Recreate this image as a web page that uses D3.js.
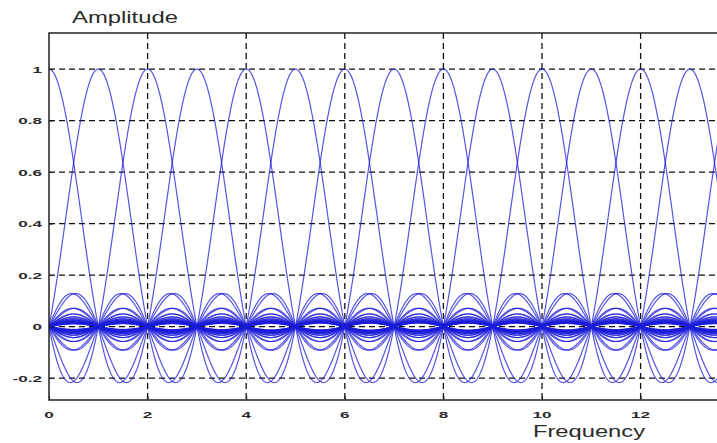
<!DOCTYPE html>
<html>
<head>
<meta charset="utf-8">
<script src="https://d3js.org/d3.v7.min.js"></script>
<style>
  body { margin: 0; background: #fff; }
  text { font-family: "Liberation Sans", Arial, sans-serif; fill: #2a2a2a; }
</style>
</head>
<body>
<div id="chart"></div>
<script>
// subcarrier centre frequencies (one sinc pulse each)
const centers = [
  -16, -15, -14, -13, -12, -11, -10, -9, -8, -7, -6, -5, -4, -3, -2, -1,
  0, 1, 2, 3, 4, 5, 6, 7, 8, 9, 10, 11, 12, 13, 14, 15,
  16, 17, 18, 19, 20, 21, 22, 23, 24, 25, 26, 27, 28, 29, 30, 31
];
const xTicks = [0, 2, 4, 6, 8, 10, 12];
const xGrid = [2, 4, 6, 8, 10, 12, 14];
const yTicks = [-0.2, 0, 0.2, 0.4, 0.6, 0.8, 1];
const xLabel = "Frequency";
const yLabel = "Amplitude";

const width = 717, height = 443;
const mLeft = 49, mTop = 33, mBottom = 400;
const mRight = 49 + 14.5 * 49.3;

const svg = d3.select("#chart").append("svg")
  .attr("width", width).attr("height", height);

const x = d3.scaleLinear().domain([0, 14.5]).range([mLeft, mRight]);
const y = d3.scaleLinear().domain([-0.285, 1.14]).range([mBottom, mTop]);

svg.append("clipPath").attr("id", "clip").append("rect")
  .attr("x", mLeft).attr("y", mTop).attr("width", mRight - mLeft).attr("height", mBottom - mTop);

// grid
svg.append("g").selectAll("line").data(yTicks).join("line")
  .attr("x1", mLeft).attr("x2", mRight)
  .attr("y1", d => y(d)).attr("y2", d => y(d))
  .attr("stroke", "#111").attr("stroke-width", 1.3).attr("stroke-dasharray", "6,4");
svg.append("g").selectAll("line").data(xGrid).join("line")
  .attr("x1", d => x(d)).attr("x2", d => x(d))
  .attr("y1", mTop).attr("y2", mBottom)
  .attr("stroke", "#111").attr("stroke-width", 1.3).attr("stroke-dasharray", "6,4");

// sinc pulses
const sinc = v => v === 0 ? 1 : Math.sin(Math.PI * v) / (Math.PI * v);
const xs = d3.range(0, 14.5 + 1e-9, 0.01);
const line = d3.line().x(d => x(d[0])).y(d => y(d[1]));
svg.append("g")
  .attr("clip-path", "url(#clip)")
  .selectAll("path").data(centers).join("path")
  .attr("d", c => line(xs.map(f => [f, sinc(f - c)])))
  .attr("fill", "none")
  .attr("stroke", "#1c1cd8")
  .attr("stroke-opacity", 0.75)
  .attr("stroke-width", 1.2);

// frame
svg.append("path")
  .attr("d", `M${mRight},${mTop}H${mLeft}V${mBottom}H${mRight}`)
  .attr("fill", "none").attr("stroke", "#222").attr("stroke-width", 1.5);

// inward ticks
const xAxis = svg.append("g").attr("transform", `translate(0,${mBottom})`)
  .call(d3.axisBottom(x).tickValues(xTicks).tickSize(-4).tickFormat(""));
const yAxis = svg.append("g").attr("transform", `translate(${mLeft},0)`)
  .call(d3.axisLeft(y).tickValues(yTicks).tickSize(-4).tickFormat(""));
[xAxis, yAxis].forEach(a => {
  a.select(".domain").remove();
  a.selectAll(".tick line").attr("stroke", "#222");
});

// tick labels (wide, squat glyphs as in the picture)
svg.append("g").selectAll("text").data(xTicks).join("text")
  .attr("transform", d => `translate(${x(d)},${mBottom + 18}) scale(1.9,1)`)
  .attr("text-anchor", "middle")
  .attr("font-size", 9).attr("font-weight", "bold")
  .text(d => String(d));
svg.append("g").selectAll("text").data(yTicks).join("text")
  .attr("transform", d => `translate(42,${y(d) + 3.5}) scale(1.9,1)`)
  .attr("text-anchor", "end")
  .attr("font-size", 9).attr("font-weight", "bold")
  .text(d => String(+d.toFixed(1)));

svg.append("text").attr("x", 125).attr("y", 23)
  .attr("text-anchor", "middle").attr("font-size", 16)
  .attr("textLength", 106).attr("lengthAdjust", "spacingAndGlyphs").text(yLabel);
svg.append("text").attr("x", 589).attr("y", 437)
  .attr("text-anchor", "middle").attr("font-size", 17)
  .attr("textLength", 112).attr("lengthAdjust", "spacingAndGlyphs").text(xLabel);
</script>
</body>
</html>
